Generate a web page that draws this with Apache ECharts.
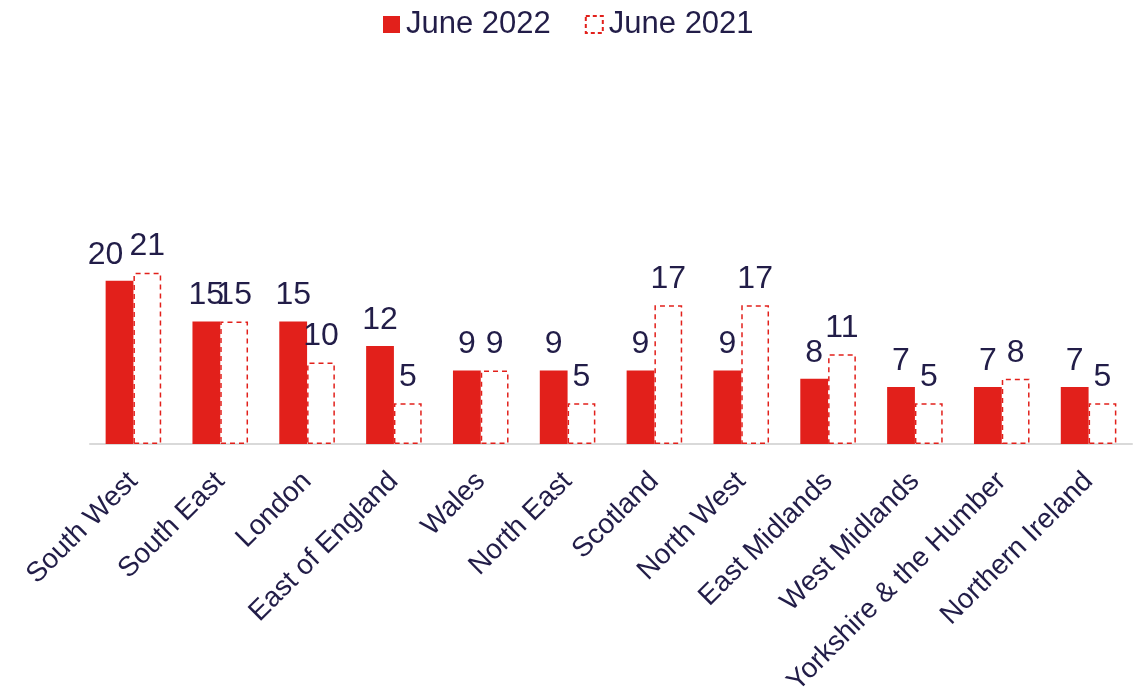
<!DOCTYPE html>
<html>
<head>
<meta charset="utf-8">
<script src="https://cdn.jsdelivr.net/npm/echarts@6/dist/echarts.min.js"></script>
<style>
  html, body { margin: 0; padding: 0; background: #ffffff; }
  #chart { width: 1142px; height: 698px; }
</style>
</head>
<body>
<div id="chart"></div>
<script>
// Regions, ordered by the June 2022 figure
const regions = [
  'South West', 'South East', 'London', 'East of England', 'Wales', 'North East',
  'Scotland', 'North West', 'East Midlands', 'West Midlands', 'Yorkshire & the Humber', 'Northern Ireland'
];
const june2022 = [20, 15, 15, 12, 9, 9, 9, 9, 8, 7, 7, 7];
const june2021 = [21, 15, 10, 5, 9, 5, 17, 17, 11, 5, 8, 5];

const RED = '#e2201b';
const INK = '#221d48';
const FONT = 'Liberation Sans, Arial, sans-serif';

const chart = echarts.init(document.getElementById('chart'), null, { renderer: 'canvas' });

const labelStyle = {
  show: true,
  position: 'top',
  distance: 10,
  color: INK,
  fontFamily: FONT,
  fontSize: 32
};

// The first June 2022 label is nudged left so it clears its neighbour
const data2022 = june2022.map((v, i) =>
  i === 0 ? { value: v, label: { offset: [-14, 0] } } : v
);

chart.setOption({
  animation: false,
  backgroundColor: '#ffffff',
  textStyle: { fontFamily: FONT },
  legend: {
    top: 4,
    left: 378,
    itemWidth: 17,
    itemHeight: 17,
    itemGap: 34,
    icon: 'rect',
    textStyle: { color: INK, fontSize: 31, fontFamily: FONT, padding: [0, 0, 0, 1] },
    data: [
      { name: 'June 2022' },
      { name: 'June 2021', itemStyle: { borderType: [4, 3], borderWidth: 2, borderColor: RED, color: '#ffffff' } }
    ]
  },
  grid: {
    left: 90,
    right: 10,
    top: 240,
    bottom: 254,
    containLabel: false,
    outerBoundsMode: 'none'
  },
  xAxis: {
    type: 'category',
    data: regions,
    axisLine: { show: true, lineStyle: { color: '#d9d9d9', width: 2 } },
    axisTick: { show: false },
    axisLabel: {
      interval: 0,
      rotate: 45,
      margin: 33,
      color: INK,
      fontFamily: FONT,
      fontSize: 28
    }
  },
  yAxis: {
    type: 'value',
    min: 0,
    max: 25,
    show: false,
    splitLine: { show: false }
  },
  series: [
    {
      name: 'June 2022',
      type: 'bar',
      data: data2022,
      barWidth: '32%',
      barGap: '0%',
      itemStyle: { color: RED },
      label: labelStyle
    },
    {
      name: 'June 2021',
      type: 'bar',
      data: june2021,
      barWidth: '32%',
      itemStyle: {
        color: '#ffffff',
        borderColor: RED,
        borderWidth: 1.5,
        borderType: [5, 4]
      },
      label: labelStyle
    }
  ]
});
</script>
</body>
</html>
